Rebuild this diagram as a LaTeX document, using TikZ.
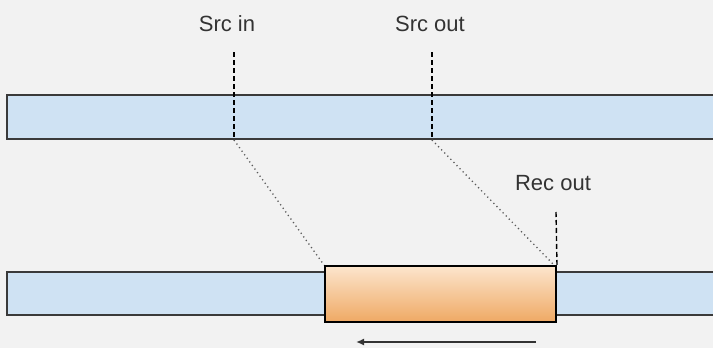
\documentclass[tikz,border=0pt]{standalone}
\usepackage{fontspec}
\setmainfont{Liberation Sans}
\usetikzlibrary{arrows.meta}
\definecolor{bg}{HTML}{F2F2F2}
\definecolor{barblue}{HTML}{CFE2F3}
\definecolor{orangetop}{HTML}{FCE5CD}
\definecolor{orangebot}{HTML}{EFA964}
\definecolor{edgegray}{HTML}{3A3A3A}
\tikzset{
  lbl/.style={font=\fontsize{22}{26}\selectfont, text=black!80, inner sep=0pt},
  bar/.style={fill=barblue, draw=edgegray, line width=1.6pt},
  marker/.style={line width=1.4pt, dash pattern=on 5pt off 3pt, black},
  link/.style={line width=1.3pt, dash pattern=on 1.2pt off 3.2pt, black!65},
  recbox/.style={draw=black, line width=2pt, top color=orangetop, bottom color=orangebot, inner sep=0pt, minimum width=231pt, minimum height=56pt},
  motion/.style={line width=1.6pt, black!80, -{Latex[length=8pt,width=7pt]}}
}
\begin{document}
\begin{tikzpicture}[x=1pt,y=1pt]
\fill[bg] (0,0) rectangle (713,-348);
\useasboundingbox (0,0) rectangle (713,-348);
\begin{scope}
\clip (0,0) rectangle (713,-348);
% top bar
\draw[bar] (720,-95) -- (7,-95) -- (7,-139) -- (720,-139);
% bottom bar
\draw[bar] (720,-272) -- (7,-272) -- (7,-315) -- (720,-315);
\end{scope}
% recorded box
\node[recbox] (rec) at (440.5,-294) {};
% labels
\node[lbl] (srcin) at (227,-24) {Src in};
\node[lbl] (srcout) at (430,-24) {Src out};
\node[lbl] (recout) at (553,-183) {Rec out};
% marker coordinates
\coordinate (inTop) at (234,-52);
\coordinate (inBot) at (234,-140);
\coordinate (outTop) at (432,-52);
\coordinate (outBot) at (432,-140);
\coordinate (rTop) at (556,-212);
\draw[marker] (inTop) -- (inBot);
\draw[marker] (outTop) -- (outBot);
\draw[marker] (rTop) -- (rec.north east);
% links
\draw[link] (inBot) -- (rec.north west);
\draw[link] (outBot) -- ([xshift=-3pt]rec.north east);
% arrow
\coordinate (aStart) at (536,-342);
\coordinate (aEnd) at (356,-342);
\draw[motion] (aStart) -- (aEnd);
\end{tikzpicture}
\end{document}
